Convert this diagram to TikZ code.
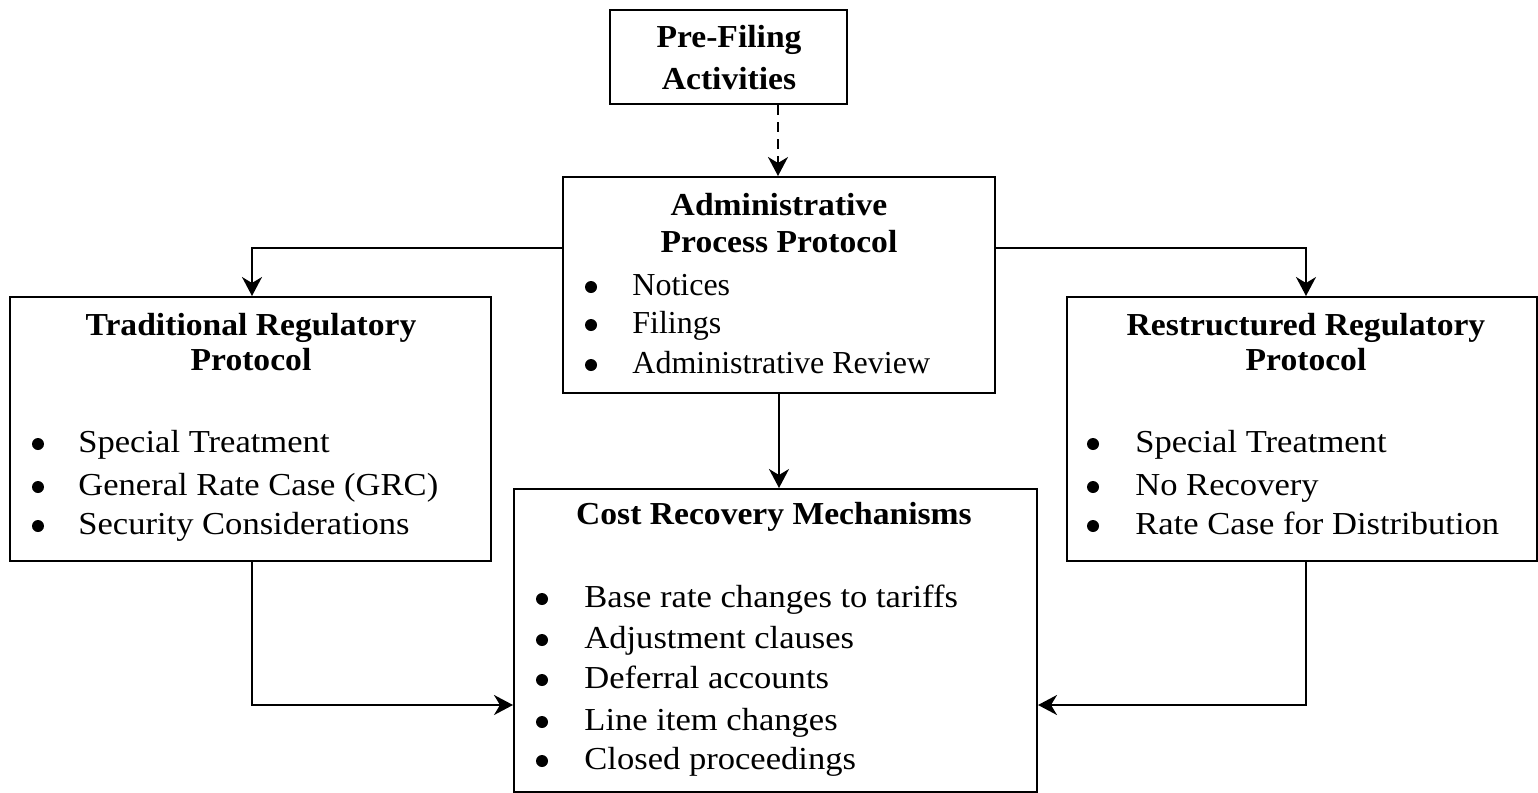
\documentclass[tikz,border=0pt]{standalone}
\usepackage{fontspec}
\setmainfont{Liberation Serif}
\newfontfamily\palb[FakeStretch=1.05]{Liberation Serif}
\newfontfamily\pal[FakeStretch=1.08]{Liberation Serif}
\usetikzlibrary{arrows.meta}
\begin{document}
\begin{tikzpicture}[x=0.5pt,y=-0.5pt,
  box/.style={draw,line width=1pt,inner sep=0pt},
  ttl/.style={font=\fontsize{16}{19}\palb\bfseries,anchor=base,inner sep=0pt},
  itm/.style={font=\fontsize{16}{19}\pal,anchor=base west,inner sep=0pt},
  itmt/.style={font=\fontsize{16}{19}\selectfont,anchor=base west,inner sep=0pt},
  dot/.style={circle,fill,inner sep=0pt,minimum size=6pt},
  conn/.style={line width=1pt,-{Stealth[length=9.5pt,width=10pt,inset=3pt]}},
  dconn/.style={conn,dash pattern=on 5pt off 3.5pt}]
\useasboundingbox (0,0) rectangle (1538,793);
% boxes
\node[box,minimum width=118.5pt,minimum height=47pt] (pre) at (728.5,57) {};
\node[box,minimum width=216pt,minimum height=108pt] (adm) at (779,285) {};
\node[box,minimum width=240.5pt,minimum height=132pt] (trad) at (250.5,429) {};
\node[box,minimum width=235pt,minimum height=132pt] (rest) at (1302,429) {};
\node[box,minimum width=261.5pt,minimum height=151.5pt] (cost) at (775.5,640.5) {};
% Pre-filing text
\node[ttl] (t1) at (729,47) {Pre-Filing};
\node[ttl] (t2) at (729,89) {Activities};
% Admin
\node[ttl] (a1) at (779,215) {Administrative};
\node[ttl] (a2) at (779,252) {Process Protocol};
\node[dot] (ab1) at (591,287) {};
\node[itmt] (ai1) at (632,295) {Notices};
\node[dot] (ab2) at (591,325) {};
\node[itmt] (ai2) at (632,333) {Filings};
\node[dot] (ab3) at (591,365) {};
\node[itmt] (ai3) at (632,373) {Administrative Review};
% Traditional
\node[ttl] (tr1) at (251,335) {Traditional Regulatory};
\node[ttl] (tr2) at (251,370) {Protocol};
\node[dot] (tb1) at (38,444) {};
\node[itm] (ti1) at (78,452) {Special Treatment};
\node[dot] (tb2) at (38,487) {};
\node[itm] (ti2) at (78,495) {General Rate Case (GRC)};
\node[dot] (tb3) at (38,526) {};
\node[itm] (ti3) at (78,534) {Security Considerations};
% Restructured
\node[ttl] (rr1) at (1306,335) {Restructured Regulatory};
\node[ttl] (rr2) at (1306,370) {Protocol};
\node[dot] (rb1) at (1093,444) {};
\node[itm] (ri1) at (1135,452) {Special Treatment};
\node[dot] (rb2) at (1093,487) {};
\node[itm] (ri2) at (1135,495) {No Recovery};
\node[dot] (rb3) at (1093,526) {};
\node[itm] (ri3) at (1135,534) {Rate Case for Distribution};
% Cost
\node[ttl] (c0) at (774,524) {Cost Recovery Mechanisms};
\node[dot] (cb1) at (542,599) {};
\node[itm] (ci1) at (584,607) {Base rate changes to tariffs};
\node[dot] (cb2) at (542,640) {};
\node[itm] (ci2) at (584,648) {Adjustment clauses};
\node[dot] (cb3) at (542,680) {};
\node[itm] (ci3) at (584,688) {Deferral accounts};
\node[dot] (cb4) at (542,722) {};
\node[itm] (ci4) at (584,730) {Line item changes};
\node[dot] (cb5) at (542,761) {};
\node[itm] (ci5) at (584,769) {Closed proceedings};
% connectors
\draw[dconn] (pre.south -| 778,0) -- (adm.north -| 778,0);
\draw[conn] (adm.west |- 0,248) -| (trad.north -| 252,0);
\draw[conn] (adm.east |- 0,248) -| (rest.north -| 1306,0);
\draw[conn] (adm.south -| 779,0) -- (cost.north -| 779,0);
\draw[conn] (trad.south -| 252,0) |- (cost.west |- 0,705);
\draw[conn] (rest.south -| 1306,0) |- (cost.east |- 0,705);
\end{tikzpicture}
\end{document}
